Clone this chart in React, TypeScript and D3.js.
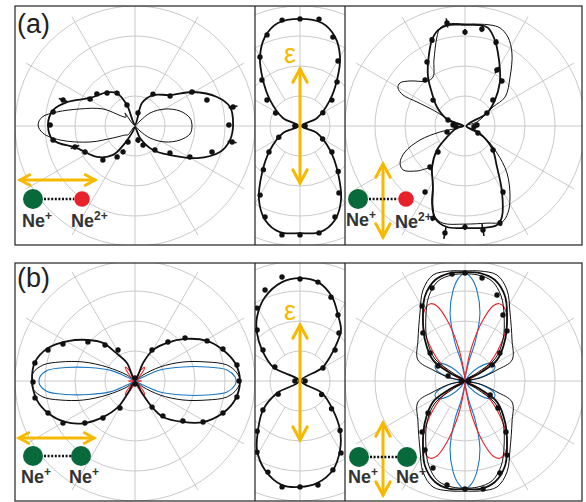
import React from "react";
import * as d3 from "d3";

// [angle in degrees (counter-clockwise from +x), radius in ring units]
type P = [number, number];
// [angle, radius, error]
type E = [number, number, number];

const ringValues = [1, 2, 3, 4];
const spokeAngles = [0, 30, 60, 90, 120, 150, 180, 210, 240, 270, 300, 330];

// ---------- (a) Ne+ / Ne2+ ----------
const aLeftFit: P[] = [
  [-67.4, 0.43], [-53.1, 1.0], [-39.6, 1.52], [-27.3, 2.33], [-17, 2.96], [-8.4, 3.2], [0.6, 3.27],
  [11.3, 3.23], [19.5, 2.9], [30.4, 2.24], [41.5, 1.56], [59.9, 1.19], [73.1, 0.8], [90, 0.05],
  [110.9, 0.75], [119, 1.25], [130, 1.46], [148.1, 1.77], [160.6, 2.4], [169, 2.78], [179.3, 2.9],
  [189.7, 2.77], [200.8, 2.07], [219.2, 1.63], [232.8, 1.21], [239.5, 0.66], [246.8, 0.25], [270, 0.05],
];
const aLeftModel: P[] = [
  [-45, 0.24], [-38.7, 0.64], [-28.1, 1.13], [-17.3, 1.57], [-8.3, 1.85], [0, 1.9], [8.3, 1.85],
  [18.4, 1.58], [29.5, 1.15], [40.9, 0.66], [45, 0.24], [90, 0.02], [127.6, 0.55], [135, 0.42],
  [152, 1.21], [162.8, 1.92], [169.8, 2.64], [174.5, 3.11], [179.4, 3.23], [184.4, 3.08], [190.6, 2.54],
  [199.6, 1.59], [208.6, 0.83], [225, 0.42], [232.1, 0.38], [270, 0.02],
];
const aLeftPts: E[] = [
  [60.6, 1.22, 0.08], [40.6, 1.54, 0.08], [30.8, 2.21, 0.1], [19.9, 2.55, 0.08], [11, 3.33, 0.15],
  [0.6, 3.13, 0.08], [-9.4, 3.28, 0.15], [-18.7, 2.71, 0.08], [-29.4, 2.1, 0.08], [-37.6, 1.47, 0.08],
  [-50.2, 1.04, 0.08], [-67.2, 0.69, 0.08], [-77.9, 0.48, 0.1], [77, 0.45, 0.1],
  [110.9, 0.75, 0.08], [118.6, 1.25, 0.08], [130.3, 1.44, 0.08], [139.9, 1.66, 0.08], [149, 1.75, 0.1],
  [160.1, 2.55, 0.15], [170.3, 2.77, 0.08], [179.3, 2.83, 0.08], [189.7, 2.77, 0.08], [199.3, 2.12, 0.15],
  [207.5, 1.88, 0.08], [226.7, 1.56, 0.08], [239.9, 1.19, 0.08], [245.2, 0.95, 0.08], [246.4, 0.58, 0.08],
];

const aMidFit: P[] = [
  [0, 0.05], [25.2, 0.63], [40.9, 1.32], [51.2, 1.97], [59.9, 2.66], [68.5, 3.19], [77.9, 3.51], [90, 3.57],
  [102.1, 3.51], [111.5, 3.19], [120.1, 2.66], [128.8, 1.97], [139.1, 1.32], [154.8, 0.63], [180, 0.05],
  [202.4, 0.61], [218.7, 1.28], [231, 2.01], [241, 2.82], [249.6, 3.34], [259.3, 3.6], [270, 3.57],
  [280.7, 3.6], [290.4, 3.34], [299, 2.82], [309, 2.01], [321.3, 1.28], [337.6, 0.61],
];
const aMidPts: P[] = [
  [99.6, 3.58], [90, 3.57], [79.9, 3.62], [69.7, 3.16], [59.7, 2.51], [50, 1.92], [39.1, 1.37], [30, 0.88],
  [109.9, 3.23], [120.1, 2.66], [129.6, 1.99], [141.8, 1.4], [152, 0.92], [0, 0.17], [180, 0.17],
  [260.6, 3.68], [270, 3.63], [280.1, 3.62], [291, 3.25], [300.2, 2.58], [310, 1.98], [320.9, 1.37],
  [330, 0.87], [249, 3.25], [240, 2.66], [230, 1.9], [220, 1.35], [208, 0.8],
];

const aRightFit: P[] = [
  [0, 0.05], [30.6, 0.85], [40.9, 1.32], [51.5, 1.87], [58, 2.2], [65.7, 2.67], [70.8, 3.03], [76.8, 3.36],
  [81.6, 3.4], [90, 3.37], [99.6, 3.41], [105.7, 3.32], [111, 3.07], [119, 2.52], [127, 2.05], [135, 1.56],
  [145.8, 1.13], [160.6, 0.6], [180, 0.05], [188.1, 0.23], [211.4, 0.7], [220.6, 1.23], [231.2, 1.75],
  [242.3, 2.3], [246.8, 2.79], [252, 3.23], [259.9, 3.42], [270, 3.4], [280, 3.45], [287.9, 3.47],
  [292.1, 3.27], [299.3, 2.52], [308, 1.73], [320.8, 1.16], [335.2, 0.48],
];
const aRightModel: P[] = [
  [0, 0.03], [18.4, 0.42], [34.2, 1.13], [35.9, 1.65], [47.4, 2.22], [57.2, 2.89], [64.2, 3.29], [70.3, 3.47],
  [76.1, 3.47], [90, 3.4], [99.5, 3.45], [104.3, 3.37], [107.5, 3.11], [115.2, 2.43], [123.1, 1.95],
  [130.2, 1.96], [140.7, 2.37], [146.5, 2.6], [150.4, 2.57], [153.4, 2.31], [153.4, 1.79], [153.4, 1.19],
  [158.2, 0.54], [180, 0.03], [196, 0.24], [193.5, 0.86], [197.3, 1.57], [203.4, 2.18], [209.6, 2.49],
  [215.4, 2.53], [223.2, 2.19], [230.9, 1.85], [242.3, 2.3], [248.4, 2.9], [251.8, 3.19], [257.2, 3.32],
  [270, 3.27], [282.8, 3.32], [291.1, 3.43], [296.3, 3.23], [302.4, 2.8], [311.8, 2.1], [319.8, 1.4],
  [327.5, 0.87], [329.7, 0.46],
];
const aRightPts: E[] = [
  [99.9, 3.49, 0.15], [90, 3.13, 0.1], [80.1, 3.28, 0.1], [69.7, 2.98, 0.1], [60.3, 2.15, 0.12],
  [50.6, 1.94, 0.08], [42.9, 1.27, 0.08], [30.6, 0.85, 0.08], [111, 3.07, 0.1], [120.7, 2.48, 0.08],
  [131, 2.03, 0.08], [140.9, 1.37, 0.08], [160.6, 0.6, 0.08], [5, 0.4, 0.05], [175, 0.4, 0.05],
  [185, 0.3, 0.05], [355, 0.3, 0.05],
  [198.4, 0.63, 0.08], [223.9, 1.25, 0.08], [229.5, 1.8, 0.08], [238.8, 2.57, 0.08], [259.4, 3.63, 0.2],
  [270, 3.37, 0.1], [279.8, 3.52, 0.2], [289.8, 3.44, 0.1], [299.9, 2.54, 0.1], [319.4, 1.23, 0.08],
  [331.7, 0.49, 0.08], [250.8, 3.25, 0.1],
];

// ---------- (b) Ne+ / Ne+ ----------
const bLeftFit: P[] = [
  [-59.7, 0.46], [-56.8, 1.04], [-52.1, 1.52], [-40.5, 2.1], [-31.1, 2.65], [-20, 3.12], [-10.8, 3.39],
  [0, 3.5], [10.2, 3.39], [19.4, 3.11], [29.1, 2.75], [40, 2.18], [49.9, 1.66], [59.9, 1.19], [66, 0.66],
  [90, 0.03], [114, 0.66], [124.6, 1.17], [130.1, 1.66], [138.9, 2.08], [149.2, 2.6], [159.2, 3.1],
  [169.2, 3.39], [180, 3.43], [191, 3.33], [200.2, 3.09], [210.4, 2.7], [220, 2.18], [228.4, 1.61],
  [236.8, 1.04], [239.7, 0.46], [270, 0.03],
];
const bLeftModel: P[] = [
  [-36.9, 0.33], [-29.2, 0.96], [-21.6, 1.72], [-14.8, 2.48], [-9.9, 3.11], [-4.5, 3.41], [0, 3.5],
  [4.5, 3.41], [9.9, 3.11], [14.8, 2.48], [21.6, 1.72], [29.2, 0.96], [36.9, 0.33], [90, 0.02],
  [143.1, 0.33], [153.4, 1.04], [159.9, 1.85], [165.8, 2.58], [170.1, 3.11], [175.5, 3.41], [180, 3.43],
  [184.5, 3.41], [189.9, 3.11], [194.2, 2.58], [200.1, 1.85], [206.6, 1.04], [216.9, 0.33], [270, 0.02],
];
const bLeftBlue: P[] = [
  [-26.6, 0.3], [-23.7, 0.91], [-16.3, 1.67], [-11, 2.44], [-6.8, 3.09], [-2.3, 3.34], [0, 3.37],
  [2.3, 3.34], [6.8, 3.09], [11, 2.44], [16.3, 1.67], [23.7, 0.91], [26.6, 0.3], [90, 0.02],
  [153.4, 0.3], [156.3, 0.88], [163.7, 1.6], [169, 2.35], [173.2, 2.95], [177.7, 3.18], [180, 3.2],
  [182.3, 3.18], [186.8, 2.95], [191, 2.35], [196.3, 1.6], [203.7, 0.88], [206.6, 0.3], [270, 0.02],
];
const bLeftRed: P[] = [
  [0, 0.22], [20, 0.08], [42, 0.15], [50, 0.42], [55, 0.56], [62, 0.4], [75, 0.08], [90, 0.02],
  [105, 0.08], [118, 0.4], [125, 0.56], [130, 0.42], [138, 0.15], [160, 0.08], [180, 0.22], [200, 0.08],
  [222, 0.15], [230, 0.42], [235, 0.56], [242, 0.4], [255, 0.08], [270, 0.02], [285, 0.08], [298, 0.4],
  [305, 0.56], [310, 0.42], [318, 0.15], [340, 0.08],
];
const bLeftPts: P[] = [
  [61.3, 1.18], [49.8, 1.7], [40.7, 2.2], [29.1, 2.75], [20, 3.12], [8.9, 3.44], [0, 3.47], [-8.9, 3.44],
  [-20, 3.12], [-31.1, 2.65], [-39.8, 2.08], [-51.3, 1.49], [-56.8, 1.04],
  [118.7, 1.18], [129.8, 1.56], [140.3, 2.04], [152.8, 2.7], [160.4, 3.08], [169.8, 3.39], [180.6, 3.4],
  [189.6, 3.38], [200.2, 3.09], [210.3, 2.78], [220, 2.18], [229.1, 1.63], [240.9, 1.03],
  [90, 0.1], [270, 0.1],
];

const bMidFit: P[] = [
  [0, 0.03], [30.6, 0.85], [38.7, 1.28], [45.8, 1.77], [51.2, 2.18], [60.1, 2.54], [69.1, 3.0], [79.7, 3.35],
  [90, 3.43], [100.3, 3.35], [112.6, 3.03], [123.9, 2.57], [131.9, 2.15], [140.8, 1.63], [152.6, 1.01],
  [180, 0.03], [207.6, 0.86], [218.1, 1.57], [229.4, 2.15], [238.1, 2.71], [248.5, 3.19], [260.2, 3.52],
  [270, 3.53], [279.5, 3.45], [290.3, 3.16], [300.1, 2.66], [309.2, 2.11], [318.7, 1.46], [331.4, 0.83],
];
const bMidPts: P[] = [
  [99.8, 3.52], [90, 3.4], [79.7, 3.35], [69.7, 2.98], [60.1, 2.54], [50.9, 2.06], [41.5, 1.56],
  [29.5, 0.88], [111, 3.25], [120.5, 2.82], [130.1, 2.22], [140, 1.61], [150.8, 0.96], [0, 0.17],
  [180, 0.17], [260.4, 3.58], [270, 3.53], [279.8, 3.52], [290.3, 3.16], [299.7, 2.76], [309, 2.12],
  [318.7, 1.4], [328, 0.85], [238.8, 2.77], [229.5, 2.2], [218.1, 1.57], [250.6, 3.22], [211, 0.85],
];

const bRightFit: P[] = [
  [0, 0.03], [28.1, 0.57], [33.3, 1.28], [45.7, 1.91], [57.1, 2.58], [64.8, 3.13], [73.5, 3.51],
  [82.1, 3.63], [90, 3.63], [97.9, 3.63], [106.5, 3.51], [115.2, 3.13], [122.9, 2.58], [134.3, 1.91],
  [146.7, 1.28], [151.9, 0.57], [180, 0.03], [208.1, 0.57], [213.3, 1.28], [225.7, 1.91], [237.1, 2.58],
  [244.8, 3.13], [253.5, 3.51], [261.9, 3.63], [270, 3.6], [278.1, 3.63], [286.5, 3.51], [295.2, 3.13],
  [302.9, 2.58], [314.3, 1.91], [326.7, 1.28], [331.9, 0.57],
];
const bRightModel: P[] = [
  [0, 0.02], [11.3, 0.51], [19, 1.13], [24.1, 1.72], [41.1, 2.08], [56.5, 2.72], [65.2, 3.34],
  [73.2, 3.69], [82.2, 3.7], [90, 3.67], [97.8, 3.7], [106.8, 3.69], [114.8, 3.34], [123.5, 2.72],
  [138.9, 2.08], [155.9, 1.72], [161, 1.13], [168.7, 0.51], [180, 0.02], [191.3, 0.51], [199, 1.13],
  [204.1, 1.72], [221.1, 2.08], [236.5, 2.72], [245.2, 3.34], [253.2, 3.69], [261.8, 3.7], [270, 3.67],
  [278.2, 3.7], [286.8, 3.69], [294.8, 3.34], [303.5, 2.72], [318.9, 2.08], [335.9, 1.72], [341, 1.13],
  [348.7, 0.51],
];
const bRightModel2: P[] = [
  [0, 0.02], [33.7, 0.48], [36.3, 1.24], [47.2, 1.86], [59, 2.53], [67, 3.08], [74.9, 3.45], [83, 3.56],
  [90, 3.57], [97, 3.56], [105.1, 3.45], [113, 3.08], [121, 2.53], [132.8, 1.86], [143.7, 1.24],
  [146.3, 0.48], [180, 0.02], [213.7, 0.48], [216.3, 1.24], [227.2, 1.86], [239, 2.53], [247, 3.08],
  [254.9, 3.45], [263, 3.56], [270, 3.57], [277, 3.56], [285.1, 3.45], [293, 3.08], [301, 2.53],
  [312.8, 1.86], [323.7, 1.24], [326.3, 0.48],
];
const bRightBlue: P[] = [
  [0, 0.02], [8, 0.2], [16, 0.75], [22, 1.05], [28, 1.12], [36, 1.0], [45, 0.65], [55, 0.25], [62, 0.02],
  [78.7, 0.68], [75.3, 1.31], [77.6, 2.32], [82.4, 3.03], [86.1, 3.41], [90, 3.6], [93.9, 3.41],
  [97.6, 3.03], [102.4, 2.32], [104.7, 1.31], [101.3, 0.68], [118, 0.02], [125, 0.25], [135, 0.65],
  [144, 1.0], [152, 1.12], [158, 1.05], [164, 0.75], [172, 0.2], [180, 0.02], [188, 0.2], [196, 0.75],
  [202, 1.05], [208, 1.12], [216, 1.0], [225, 0.65], [235, 0.25], [242, 0.02], [258.7, 0.68],
  [255.3, 1.31], [257.6, 2.32], [262.4, 3.03], [266.1, 3.41], [270, 3.6], [273.9, 3.41], [277.6, 3.03],
  [282.4, 2.32], [284.7, 1.31], [281.3, 0.68], [298, 0.02], [305, 0.25], [315, 0.65], [324, 1.0],
  [332, 1.12], [338, 1.05], [344, 0.75], [352, 0.2],
];
const bRightRed: P[] = [
  [0, 0.02], [25, 0.3], [34, 0.89], [45, 1.65], [54, 2.39], [62, 2.78], [66, 2.82], [69.5, 2.67],
  [73.6, 2.12], [78.7, 1.19], [84, 0.3], [90, 0.02], [96, 0.3], [101.3, 1.19], [106.4, 2.12],
  [110.5, 2.67], [114, 2.82], [118, 2.78], [126, 2.39], [135, 1.65], [146, 0.89], [155, 0.3], [180, 0.02],
  [205, 0.3], [214, 0.89], [225, 1.65], [234, 2.39], [242, 2.78], [246, 2.82], [249.5, 2.67],
  [253.6, 2.12], [258.7, 1.19], [264, 0.3], [270, 0.02], [276, 0.3], [281.3, 1.19], [286.4, 2.12],
  [290.5, 2.67], [294, 2.82], [298, 2.78], [306, 2.39], [315, 1.65], [326, 0.89], [335, 0.3],
];
const bRightPts: P[] = [
  [109.5, 3.29], [96.9, 3.59], [90, 3.6], [80.6, 3.48], [69.6, 3.06], [60.1, 2.54], [50, 2.18],
  [38.7, 1.49], [30.7, 1.05], [119.8, 2.88], [131.2, 2.13], [141.3, 1.49], [151, 1.03], [163.6, 0.59],
  [260.2, 3.52], [270, 3.6], [279.5, 3.65], [290.8, 3.28], [299.6, 2.84], [308.8, 2.18], [320.7, 1.42],
  [330.8, 0.96], [220.9, 1.63], [229.9, 2.22], [239.9, 2.66], [249.8, 3.09], [0, 0.12], [180, 0.12],
];

// ---------- layout ----------
const W = 586;
const H = 502;
const FONT = "'Liberation Sans', Arial, Helvetica, sans-serif";
const YELLOW = "#f7b900";
const GREEN = "#08693a";
const RED = "#e8222b";
const BLUE = "#1b76c2";
const PRED = "#e3262d";

const colX = [15, 255, 345, 582];
const rows = [
  { y0: 6, y1: 245, cy: 126 },
  { y0: 263, y1: 501, cy: 381 },
];
const centersX = [135, 300, 465];

const rScale = d3.scaleLinear().domain([0, 4]).range([0, 120]);
const toRad = (deg: number) => ((90 - deg) * Math.PI) / 180;
const radialLine = d3
  .lineRadial<P>()
  .angle((d) => toRad(d[0]))
  .radius((d) => rScale(d[1]))
  .curve(d3.curveCatmullRomClosed.alpha(0.5));

function Grid() {
  return (
    <g stroke="#cacaca" strokeWidth={1} fill="none">
      {ringValues.map((v) => (
        <circle key={v} r={rScale(v)} />
      ))}
      {spokeAngles.map((a) => {
        const inner = a % 90 === 0 ? 0 : rScale(1);
        const [x1, y1] = d3.pointRadial(toRad(a), inner);
        const [x2, y2] = d3.pointRadial(toRad(a), rScale(4.2));
        return <line key={a} x1={x1} y1={y1} x2={x2} y2={y2} />;
      })}
    </g>
  );
}

function Curve({ data, color = "#111", width = 1 }: { data: P[]; color?: string; width?: number }) {
  return <path d={radialLine(data) || ""} fill="none" stroke={color} strokeWidth={width} strokeLinejoin="round" />;
}

function Dots({ data }: { data: (P | E)[] }) {
  return (
    <g>
      {data.map((d, i) => {
        const [x, y] = d3.pointRadial(toRad(d[0]), rScale(d[1]));
        const err = (d as E)[2];
        let bar = null;
        if (err) {
          const [ax, ay] = d3.pointRadial(toRad(d[0]), rScale(d[1] - err));
          const [bx, by] = d3.pointRadial(toRad(d[0]), rScale(d[1] + err));
          bar = <line x1={ax} y1={ay} x2={bx} y2={by} stroke="#111" strokeWidth={1.6} />;
        }
        return (
          <g key={i}>
            {bar}
            <circle cx={x} cy={y} r={2.7} fill="#111" />
          </g>
        );
      })}
    </g>
  );
}

function Panel({ id, col, row, children }: { id: string; col: number; row: number; children?: React.ReactNode }) {
  const r = rows[row];
  const x0 = colX[col];
  const x1 = colX[col + 1];
  return (
    <g>
      <clipPath id={id}>
        <rect x={x0} y={r.y0} width={x1 - x0} height={r.y1 - r.y0} />
      </clipPath>
      <g clipPath={`url(#${id})`}>
        <g transform={`translate(${centersX[col]},${r.cy})`}>
          <Grid />
          {children}
        </g>
      </g>
    </g>
  );
}

function Arrow({ x1, y1, x2, y2, head = 15 }: { x1: number; y1: number; x2: number; y2: number; head?: number }) {
  const a = Math.atan2(y2 - y1, x2 - x1);
  const s = 0.5;
  const tip = (x: number, y: number, ang: number) =>
    `M${x - head * Math.cos(ang - s)},${y - head * Math.sin(ang - s)}L${x},${y}L${x - head * Math.cos(ang + s)},${y - head * Math.sin(ang + s)}`;
  return (
    <g stroke={YELLOW} strokeWidth={3} fill="none" strokeLinecap="round" strokeLinejoin="miter">
      <line x1={x1} y1={y1} x2={x2} y2={y2} />
      <path d={tip(x2, y2, a)} />
      <path d={tip(x1, y1, a + Math.PI)} />
    </g>
  );
}

function Ion({ x, y, charge }: { x: number; y: number; charge: string }) {
  return (
    <text x={x} y={y} fontFamily={FONT} fontWeight="bold" fontSize={18} fill="#333">
      Ne
      <tspan fontSize={12} dy={-7}>
        {charge}
      </tspan>
    </text>
  );
}

function Molecule({ x1, x2, y, second }: { x1: number; x2: number; y: number; second: "red" | "green" }) {
  return (
    <g>
      <line x1={x1 + 11} y1={y} x2={x2 - 8} y2={y} stroke="#111" strokeWidth={2.5} strokeDasharray="2 1.6" />
      <circle cx={x1} cy={y} r={10} fill={GREEN} />
      <circle cx={x2} cy={y} r={second === "red" ? 7.8 : 10} fill={second === "red" ? RED : GREEN} />
    </g>
  );
}

function Epsilon({ x, y }: { x: number; y: number }) {
  return (
    <text x={x} y={y} fontFamily={FONT} fontSize={27} fill={YELLOW}>
      ε
    </text>
  );
}

export default function App() {
  return (
    <svg width={W} height={H} viewBox={`0 0 ${W} ${H}`} style={{ position: "absolute", left: 0, top: 0, background: "#fff" }}>
      <rect width={W} height={H} fill="#fff" />

      {/* row (a) */}
      <Panel id="a0" col={0} row={0}>
        <Curve data={aLeftModel} width={1} />
        <Curve data={aLeftFit} width={1.8} />
        <Dots data={aLeftPts} />
      </Panel>
      <Panel id="a1" col={1} row={0}>
        <Curve data={aMidFit} width={1.8} />
        <Dots data={aMidPts} />
      </Panel>
      <Panel id="a2" col={2} row={0}>
        <Curve data={aRightModel} width={1} />
        <Curve data={aRightFit} width={1.8} />
        <Dots data={aRightPts} />
      </Panel>

      {/* row (b) */}
      <Panel id="b0" col={0} row={1}>
        <Curve data={bLeftModel} width={1} />
        <Curve data={bLeftBlue} color={BLUE} width={1.1} />
        <Curve data={bLeftRed} color={PRED} width={1.1} />
        <Curve data={bLeftFit} width={1.8} />
        <Dots data={bLeftPts} />
      </Panel>
      <Panel id="b1" col={1} row={1}>
        <Curve data={bMidFit} width={1.8} />
        <Dots data={bMidPts} />
      </Panel>
      <Panel id="b2" col={2} row={1}>
        <Curve data={bRightBlue} color={BLUE} width={1.1} />
        <Curve data={bRightRed} color={PRED} width={1.1} />
        <Curve data={bRightModel} width={1} />
        <Curve data={bRightModel2} width={1} />
        <Curve data={bRightFit} width={1.8} />
        <Dots data={bRightPts} />
      </Panel>

      {/* annotations (a) */}
      <text x={17} y={33} fontFamily={FONT} fontSize={27} fill="#222">(a)</text>
      <Arrow x1={20} y1={180} x2={95} y2={180} head={11} />
      <Molecule x1={33} x2={82} y={199} second="red" />
      <Ion x={22} y={227} charge="+" />
      <Ion x={71} y={227} charge="2+" />

      <Epsilon x={284} y={63} />
      <Arrow x1={300} y1={69} x2={300} y2={183} />

      <Arrow x1={383} y1={164} x2={383} y2={237} />
      <Molecule x1={358} x2={406} y={199} second="red" />
      <Ion x={346} y={226} charge="+" />
      <Ion x={395} y={228} charge="2+" />

      {/* annotations (b) */}
      <text x={17} y={287} fontFamily={FONT} fontSize={27} fill="#222">(b)</text>
      <Arrow x1={19} y1={438} x2={94} y2={438} head={11} />
      <Molecule x1={33} x2={81} y={456} second="green" />
      <Ion x={21} y={483} charge="+" />
      <Ion x={69} y={483} charge="+" />

      <Epsilon x={284} y={320} />
      <Arrow x1={300} y1={325} x2={300} y2={440} />

      <Arrow x1={383} y1={423} x2={383} y2={495} />
      <Molecule x1={359} x2={407} y={457} second="green" />
      <Ion x={348} y={483} charge="+" />
      <Ion x={396} y={483} charge="+" />

      {/* panel frames */}
      <g fill="none" stroke="#222" strokeWidth={1.2}>
        {rows.map((r, ri) => (
          <g key={ri}>
            <rect x={colX[0]} y={r.y0} width={colX[3] - colX[0]} height={r.y1 - r.y0} />
            <line x1={colX[1]} y1={r.y0} x2={colX[1]} y2={r.y1} />
            <line x1={colX[2]} y1={r.y0} x2={colX[2]} y2={r.y1} />
          </g>
        ))}
      </g>
    </svg>
  );
}
